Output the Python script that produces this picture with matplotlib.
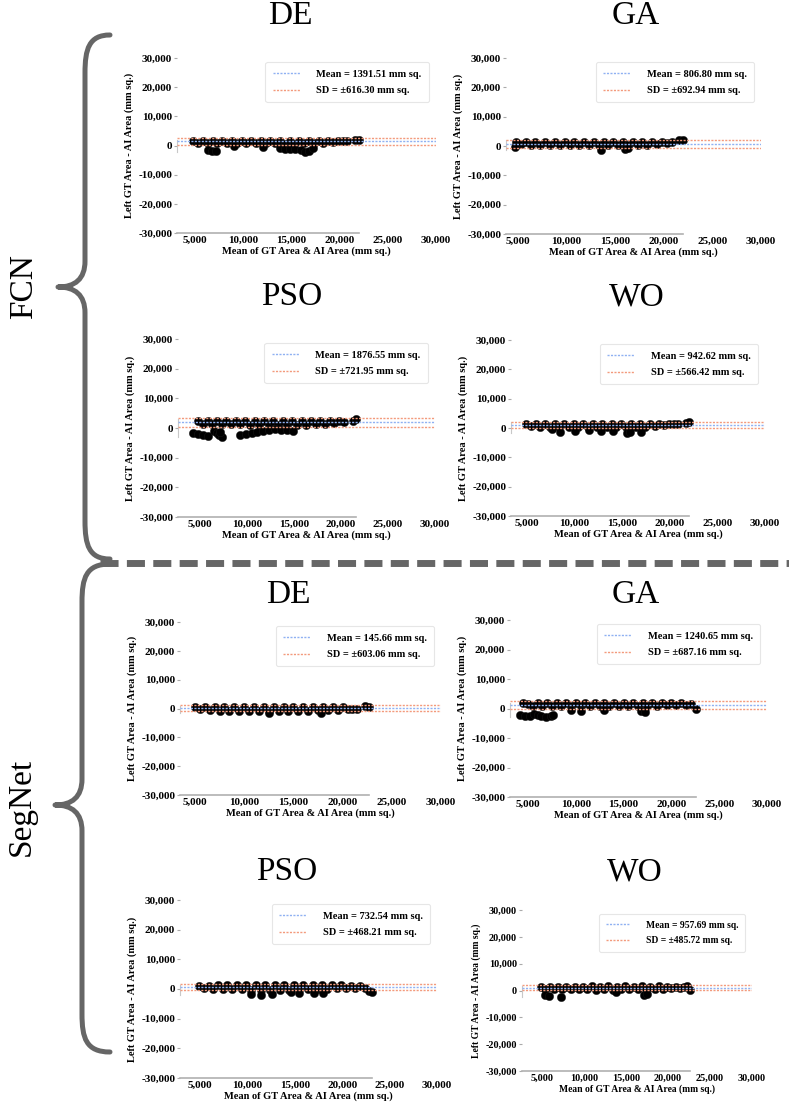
import matplotlib
matplotlib.use('Agg')
import matplotlib.pyplot as plt
from matplotlib.path import Path
from matplotlib.patches import PathPatch

plt.rcParams['font.family'] = ['Liberation Serif', 'DejaVu Serif']

W, H = 789, 1105

# ---- data (mean of areas, difference of areas) ----
fcn_de_x = [4800, 5300, 5800, 6300, 6800, 7300, 7800, 8300, 8800, 9300, 9800, 10300, 10800, 11300, 11800, 12300,
            12800, 13300, 13800, 14300, 14800, 15300, 15800, 16300, 16800, 17300, 17800, 18300, 18800, 19300,
            19800, 20300, 20800, 21600, 22000,
            6300, 6700, 7100, 9000, 12000, 13800, 14300, 14800, 15400, 16000, 16400, 16800, 17200]
fcn_de_y = [1500, 1000, 1600, 900, 1700, 900, 1700, 800, 1700, 800, 1700, 700, 1700, 800, 1700, 700,
            1700, 700, 1600, 600, 1700, 600, 1700, 700, 1700, 800, 1700, 900, 1700, 1100,
            1700, 1400, 1600, 2000, 1900,
            -1700, -1900, -1800, -300, -400, -900, -1200, -1300, -1100, -1600, -2200, -1900, -900]

fcn_ga_x = [4800, 5300, 5800, 6300, 6800, 7300, 7800, 8300, 8800, 9300, 9800, 10300, 10800, 11300, 11800, 12300,
            12800, 13300, 13800, 14300, 14800, 15300, 15800, 16300, 16800, 17300, 17800, 18300, 18800, 19300,
            19800, 20300, 20800, 21600, 22000,
            4700, 13500, 16000, 16300]
fcn_ga_y = [1200, 700, 1300, 300, 1400, 200, 1400, 300, 1400, 200, 1400, 200, 1500, 300, 1500, 200,
            1500, 200, 1500, 200, 1400, 300, 1500, 300, 1500, 400, 1400, 500, 1400, 700,
            1300, 1100, 1400, 1900, 2100,
            -500, -1500, -1000, -800]

fcn_pso_x = [4800, 5300, 5800, 6300, 6800, 7300, 7800, 8300, 8800, 9300, 9800, 10300, 10800, 11300, 11800, 12300,
             12800, 13300, 13800, 14300, 14800, 15300, 15800, 16300, 16800, 17300, 17800, 18300, 18800, 19300,
             19800, 20300, 21300, 21600,
             4300, 4800, 5300, 5800, 6500, 6800, 7000, 7300, 7100, 9300, 9900, 10500, 11100, 11700, 12300,
             13000, 13600, 14300, 14900]
fcn_pso_y = [2200, 1300, 2400, 1200, 2400, 1200, 2400, 1200, 2400, 1200, 2400, 1100, 2400, 1100, 2400, 1000,
             2400, 1000, 2400, 1000, 2400, 1000, 2400, 1100, 2400, 1200, 2400, 1400, 2400, 1600,
             2400, 2000, 2500, 3000,
             -1800, -2100, -2400, -2800, -1000, -1800, -2500, -2900, -1400, -2200, -1900, -1600, -1300, -1000, -800,
             -500, -600, -800, -900]

fcn_wo_x = [4900, 5400, 5900, 6400, 6900, 7400, 7900, 8400, 8900, 9400, 9900, 10400, 10900, 11400, 11900, 12400,
            12900, 13400, 13900, 14400, 14900, 15400, 15900, 16400, 16900, 17400, 17900, 18400, 18900, 19400,
            19900, 20400, 20900, 21700, 22000,
            7600, 8500, 10000, 11500, 12800, 14000, 15500, 15800, 17000]
fcn_wo_y = [1300, 600, 1400, 500, 1400, 500, 1400, 400, 1400, 400, 1400, 400, 1400, 300, 1400, 400,
            1500, 300, 1400, 300, 1500, 300, 1500, 400, 1400, 500, 1500, 700, 1500, 900,
            1500, 1200, 1400, 1600, 1900,
            -400, -1200, -1000, -800, -900, -1100, -1600, -1300, -1200]

seg_de_x = [5000, 5500, 6000, 6500, 7000, 7500, 8000, 8500, 9000, 9500, 10000, 10500, 11000, 11500, 12000, 12500,
            13000, 13500, 14000, 14500, 15000, 15500, 16000, 16500, 17000, 17500, 18000, 18500, 19000, 19500,
            20000, 20500, 21000, 21500, 22300, 22700,
            12500, 17800]
seg_de_y = [400, 0, 600, -400, 600, -700, 600, -700, 600, -700, 600, -700, 600, -700, 600, -700,
            600, -700, 600, -700, 600, -700, 600, -700, 600, -600, 600, -500, 600, -400,
            500, -200, 0, -100, 700, 500,
            -1500, -1400]

seg_ga_x = [5000, 5500, 6000, 6500, 7000, 7500, 8000, 8500, 9000, 9500, 10000, 10500, 11000, 11500, 12000, 12500,
            13000, 13500, 14000, 14500, 15000, 15500, 16000, 16500, 17000, 17500, 18000, 18500, 19000, 19500,
            20000, 20500, 21000, 21500, 22000, 22600,
            4500, 4200, 4700, 5200, 5600, 6000, 6400, 6900, 7400, 7600, 9500, 10500, 13000, 16800, 17200]
seg_ga_y = [1500, 1000, 1700, 800, 1800, 700, 1800, 700, 1800, 700, 1900, 700, 1900, 700, 1900, 700,
            1900, 700, 1900, 700, 1900, 800, 1900, 800, 1900, 900, 1900, 1000, 1800, 1100,
            1700, 1200, 1700, 1300, 1500, -200,
            2000, -2200, -2400, -2500, -1800, -2200, -2600, -2800, -2700, -2200, -500, -1000, -600, -800, -1300]

seg_pso_x = [4900, 5400, 5900, 6400, 6900, 7400, 7900, 8400, 8900, 9400, 9900, 10400, 10900, 11400, 11900, 12400,
             12900, 13400, 13900, 14400, 14900, 15400, 15900, 16400, 16900, 17400, 17900, 18400, 18900, 19400,
             19900, 20400, 20900, 21400, 21900, 22400, 22800, 23100,
             10400, 11400, 12600, 14600, 15400, 17000, 18000]
seg_pso_y = [1000, 300, 1100, 100, 1200, 0, 1200, -100, 1200, -100, 1200, -400, 1200, -500, 1200, -400,
             1200, -300, 1200, -200, 1200, -100, 1200, 0, 1200, 0, 1200, 100, 1200, 200,
             1200, 300, 1100, 400, 1000, 200, -700, -1000,
             -1800, -1900, -1700, -1100, -1300, -1200, -1500]

seg_wo_x = [4900, 5400, 5900, 6400, 6900, 7400, 7900, 8400, 8900, 9400, 9900, 10400, 10900, 11400, 11900, 12400,
            12900, 13400, 13900, 14400, 14900, 15400, 15900, 16400, 16900, 17400, 17900, 18400, 18900, 19400,
            19900, 20400, 20900, 21400, 21900, 22300, 22600,
            5400, 5800, 7300, 13800, 17200, 17500]
seg_wo_y = [1300, 700, 1400, 500, 1400, 400, 1400, 400, 1400, 400, 1400, 400, 1500, 300, 1400, 400,
            1500, 300, 1400, 400, 1500, 400, 1400, 400, 1500, 500, 1400, 600, 1500, 700,
            1400, 900, 1400, 1000, 1300, 1800, 200,
            -1800, -2200, -2400, -500, -1500, -1400]

titles = ['DE', 'GA', 'PSO', 'WO', 'DE', 'GA', 'PSO', 'WO']
means = [1391.51, 806.80, 1876.55, 942.62, 145.66, 1240.65, 732.54, 957.69]
sds = [616.30, 692.94, 721.95, 566.42, 603.06, 687.16, 468.21, 485.72]
xs = [fcn_de_x, fcn_ga_x, fcn_pso_x, fcn_wo_x, seg_de_x, seg_ga_x, seg_pso_x, seg_wo_x]
ys = [fcn_de_y, fcn_ga_y, fcn_pso_y, fcn_wo_y, seg_de_y, seg_ga_y, seg_pso_y, seg_wo_y]

yticks = [-30000, -20000, -10000, 0, 10000, 20000, 30000]
xticks = [5000, 10000, 15000, 20000, 25000, 30000]

# layout in pixels: left, right(x=30000), top(y=30000), bottom(y=-30000), x at left edge
boxes = [(177, 436, 58, 233, 3100), (506, 761, 58, 234, 3765),
         (178, 435, 339, 517, 2660), (511, 765, 340, 516, 3320),
         (180, 441, 622, 795, 3480), (510, 767, 620, 797, 3120),
         (180, 437, 900, 1078, 2890), (522, 752, 910, 1071, 2620)]
title_pos = [(290, 16), (636, 16), (292, 297), (637, 297),
             (288, 595), (636, 595), (287, 872), (635, 872)]
fscale = [1, 1, 1, 1, 1, 1, 1, 0.92]

blue = '#8fb1f2'
orange = '#f39a7c'

fig = plt.figure(figsize=(W / 100, H / 100), dpi=100)

for i in range(8):
    l, r, t, b, xlo = boxes[i]
    ax = fig.add_axes([l / W, 1 - b / H, (r - l) / W, (b - t) / H])
    fs = 8 * fscale[i]
    ax.scatter(xs[i], ys[i], s=36, color='black', edgecolors='#1a1a1a', linewidths=0.3, zorder=2)
    m, sd = means[i], sds[i]
    ax.axhline(m, color=blue, lw=1.0, ls=(0, (1.5, 1)), zorder=3,
               label='Mean = %.2f mm sq.' % m)
    ax.axhline(m + 1.96 * sd, color=orange, lw=1.0, ls=(0, (1.5, 1)), zorder=3,
               label='SD = \u00b1%.2f mm sq.' % sd)
    ax.axhline(m - 1.96 * sd, color=orange, lw=1.0, ls=(0, (1.5, 1)), zorder=3)
    ax.set_xlim(xlo, 30000)
    ax.set_ylim(-30000, 30000)
    ax.set_yticks(yticks)
    ax.set_yticklabels(['{:,}'.format(v) for v in yticks], fontsize=fs, fontweight='bold')
    ax.set_xticks(xticks)
    ax.set_xticklabels(['{:,}'.format(v) for v in xticks], fontsize=fs, fontweight='bold')
    ax.tick_params(axis='y', length=2.5, width=0.8, color='#aaaaaa', pad=1)
    ax.tick_params(axis='x', length=0, pad=2)
    for s in ['top', 'right']:
        ax.spines[s].set_visible(False)
    ax.spines['bottom'].set_color('#b0b0b0')
    ax.spines['bottom'].set_linewidth(1.2)
    ax.spines['bottom'].set_bounds(xlo, max(xs[i]))
    ax.spines['left'].set_color('#c8c8c8')
    ax.spines['left'].set_linewidth(0.8)
    ax.spines['left'].set_bounds(min(ys[i]), max(ys[i]))
    ax.set_xlabel('Mean of GT Area & AI Area (mm sq.)', fontsize=7.5 * fscale[i],
                  fontweight='bold', labelpad=1.5)
    ax.set_ylabel('Left GT Area - AI Area (mm sq.)', fontsize=7.5 * fscale[i],
                  fontweight='bold', labelpad=3)
    leg = ax.legend(loc='upper right', bbox_to_anchor=(1 - 7 / (r - l), 1 - 4 / (b - t)),
                    borderaxespad=0, prop={'size': 7.5 * fscale[i], 'weight': 'bold'},
                    handlelength=2.6, handletextpad=1.6, labelspacing=0.7,
                    borderpad=0.7, fancybox=True, framealpha=1)
    leg.get_frame().set_edgecolor('#e6e6e6')
    leg.get_frame().set_linewidth(0.8)
    fig.text(title_pos[i][0] / W, 1 - title_pos[i][1] / H, titles[i], fontsize=24,
             ha='center', va='center')

# braces, group labels and separator drawn in pixel coordinates
over = fig.add_axes([0, 0, 1, 1], zorder=-1)
over.set_xlim(0, W)
over.set_ylim(H, 0)
over.axis('off')


def brace(x_end, x_mid, x_tip, y0, y_tip, y1):
    verts = [(x_end, y0), (x_mid + 4, y0), (x_mid, y0 + 14), (x_mid, y0 + 38),
             (x_mid, y_tip - 26), (x_mid, y_tip - 8), (x_mid - 10, y_tip), (x_tip, y_tip),
             (x_mid - 10, y_tip), (x_mid, y_tip + 8), (x_mid, y_tip + 26),
             (x_mid, y1 - 38), (x_mid, y1 - 14), (x_mid + 4, y1), (x_end, y1)]
    codes = [Path.MOVETO, Path.CURVE4, Path.CURVE4, Path.CURVE4,
             Path.LINETO, Path.CURVE4, Path.CURVE4, Path.CURVE4,
             Path.CURVE4, Path.CURVE4, Path.CURVE4,
             Path.LINETO, Path.CURVE4, Path.CURVE4, Path.CURVE4]
    over.add_patch(PathPatch(Path(verts, codes), fill=False, edgecolor='#666666',
                             lw=3.6, capstyle='round', joinstyle='round'))


brace(110, 85, 58, 35, 287, 559)
brace(110, 82, 55, 564, 805, 1052)

over.text(24, 287, 'FCN', fontsize=24, rotation=90, ha='center', va='center')
over.text(22, 807, 'SegNet', fontsize=24, rotation=90, ha='center', va='center')
over.plot([100, 789], [563, 563], color='#666666', lw=5, dashes=(2.6, 1.2))

fig.savefig('out.png', dpi=100)
